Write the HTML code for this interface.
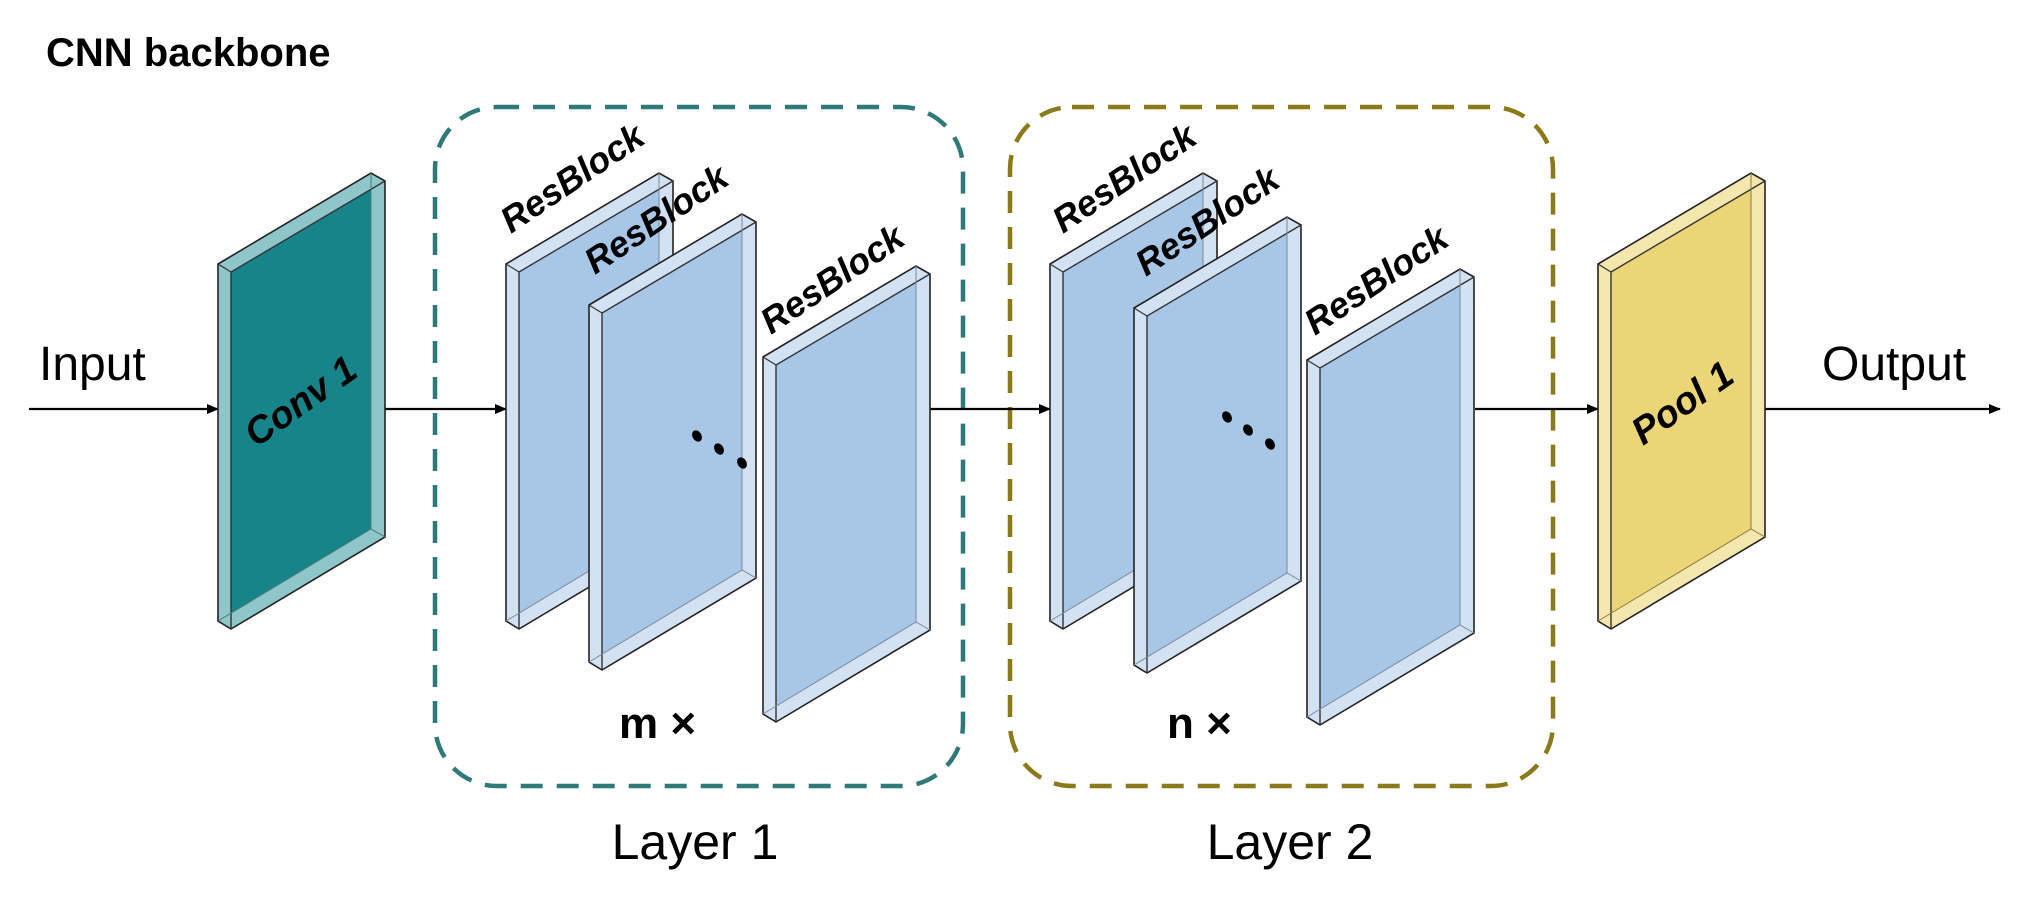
<!DOCTYPE html>
<html><head><meta charset="utf-8"><style>
html,body{margin:0;padding:0;background:#fff;}
svg{display:block;}
text{font-family:"Liberation Sans",sans-serif;}
</style></head><body>
<svg width="2038" height="910" viewBox="0 0 2038 910" xmlns="http://www.w3.org/2000/svg">
<defs>
<marker id="ah" markerWidth="12" markerHeight="10" refX="11" refY="5" orient="auto" markerUnits="userSpaceOnUse">
<path d="M0,0 L12,5 L0,10 Z" fill="#000"/></marker>
<g id="blue">
<polygon points="0,0 153,-91 167,-83 167,273 13,365 0,357" fill="#d3e2f3" stroke="#222" stroke-width="1.6"/>
<polygon points="13,8 153,-75 153,265 13,349" fill="#a8c6e6"/>
<polyline points="13,365 13,8 167,-83" fill="none" stroke="#333" stroke-width="1.4"/>
<line x1="0" y1="0" x2="13" y2="8" stroke="#333" stroke-width="1.2"/>
<polyline points="0,357 153,265 167,273" fill="none" stroke="#7a8a9a" stroke-width="1"/>
<line x1="153" y1="-91" x2="153" y2="265" stroke="#7a8a9a" stroke-width="1"/>
</g>
<g id="teal">
<polygon points="0,0 153,-91 167,-83 167,273 13,365 0,357" fill="#8fc6ca" stroke="#222" stroke-width="1.6"/>
<polygon points="13,8 153,-75 153,265 13,349" fill="#17848a"/>
<polyline points="13,365 13,8 167,-83" fill="none" stroke="#333" stroke-width="1.4"/>
<line x1="0" y1="0" x2="13" y2="8" stroke="#333" stroke-width="1.2"/>
<polyline points="0,357 153,265 167,273" fill="none" stroke="#4a7a7a" stroke-width="1"/>
<line x1="153" y1="-91" x2="153" y2="265" stroke="#4a7a7a" stroke-width="1"/>
</g>
<g id="yellow">
<polygon points="0,0 153,-91 167,-83 167,273 13,365 0,357" fill="#f4e7ae" stroke="#222" stroke-width="1.6"/>
<polygon points="13,8 153,-75 153,265 13,349" fill="#ebd677"/>
<polyline points="13,365 13,8 167,-83" fill="none" stroke="#333" stroke-width="1.4"/>
<line x1="0" y1="0" x2="13" y2="8" stroke="#333" stroke-width="1.2"/>
<polyline points="0,357 153,265 167,273" fill="none" stroke="#8a7a40" stroke-width="1"/>
<line x1="153" y1="-91" x2="153" y2="265" stroke="#8a7a40" stroke-width="1"/>
</g>
</defs>

<text x="46" y="66" font-size="40" font-weight="bold">CNN backbone</text>

<!-- dashed boxes -->
<rect x="435" y="107" width="528" height="679" rx="62" fill="none" stroke="#2e7a78" stroke-width="4.5" stroke-dasharray="22,14"/>
<rect x="1010" y="107" width="543" height="679" rx="62" fill="none" stroke="#8b7a1a" stroke-width="4.5" stroke-dasharray="22,14"/>

<!-- arrows -->
<line x1="29" y1="409" x2="218" y2="409" stroke="#000" stroke-width="2.2" marker-end="url(#ah)"/>
<line x1="385" y1="409" x2="506" y2="409" stroke="#000" stroke-width="2.2" marker-end="url(#ah)"/>
<line x1="930" y1="409" x2="1050" y2="409" stroke="#000" stroke-width="2.2" marker-end="url(#ah)"/>
<line x1="1475" y1="409" x2="1598" y2="409" stroke="#000" stroke-width="2.2" marker-end="url(#ah)"/>
<line x1="1765" y1="409" x2="2000" y2="409" stroke="#000" stroke-width="2.2" marker-end="url(#ah)"/>

<text x="39" y="380" font-size="48">Input</text>
<text x="1822" y="380" font-size="48">Output</text>

<!-- slabs -->
<use href="#teal" x="218" y="264"/>
<use href="#blue" x="506" y="264"/>
<use href="#blue" x="589" y="305"/>
<use href="#blue" x="763" y="357"/>
<use href="#blue" x="1050" y="264"/>
<use href="#blue" x="1134" y="308"/>
<use href="#blue" x="1307" y="360"/>
<use href="#yellow" x="1598" y="264"/>

<!-- labels -->
<g font-size="36" font-weight="bold" font-style="italic">
<text transform="translate(511,234) rotate(-34)">ResBlock</text>
<text transform="translate(595,275) rotate(-34)">ResBlock</text>
<text transform="translate(771,335) rotate(-34)">ResBlock</text>
<text transform="translate(1063,234) rotate(-34)">ResBlock</text>
<text transform="translate(1146,277) rotate(-34)">ResBlock</text>
<text transform="translate(1315,336) rotate(-34)">ResBlock</text>
<text transform="translate(256,448) rotate(-35)" font-size="38">Conv 1</text>
<text transform="translate(1643,446) rotate(-35)" font-size="38">Pool 1</text>
</g>

<!-- dots -->
<g fill="#000">
<ellipse cx="697" cy="436" rx="4.5" ry="6" transform="rotate(-30 697 436)"/>
<ellipse cx="719" cy="449" rx="4.5" ry="6" transform="rotate(-30 719 449)"/>
<ellipse cx="742" cy="463" rx="4.5" ry="6" transform="rotate(-30 742 463)"/>
<ellipse cx="1227" cy="417" rx="4.5" ry="6" transform="rotate(-30 1227 417)"/>
<ellipse cx="1248" cy="430" rx="4.5" ry="6" transform="rotate(-30 1248 430)"/>
<ellipse cx="1270" cy="444" rx="4.5" ry="6" transform="rotate(-30 1270 444)"/>
</g>

<text x="619" y="738" font-size="44" font-weight="bold">m ×</text>
<text x="1167" y="738" font-size="44" font-weight="bold">n ×</text>

<text x="695" y="859" font-size="50" text-anchor="middle">Layer 1</text>
<text x="1290" y="859" font-size="50" text-anchor="middle">Layer 2</text>
</svg>
</body></html>
